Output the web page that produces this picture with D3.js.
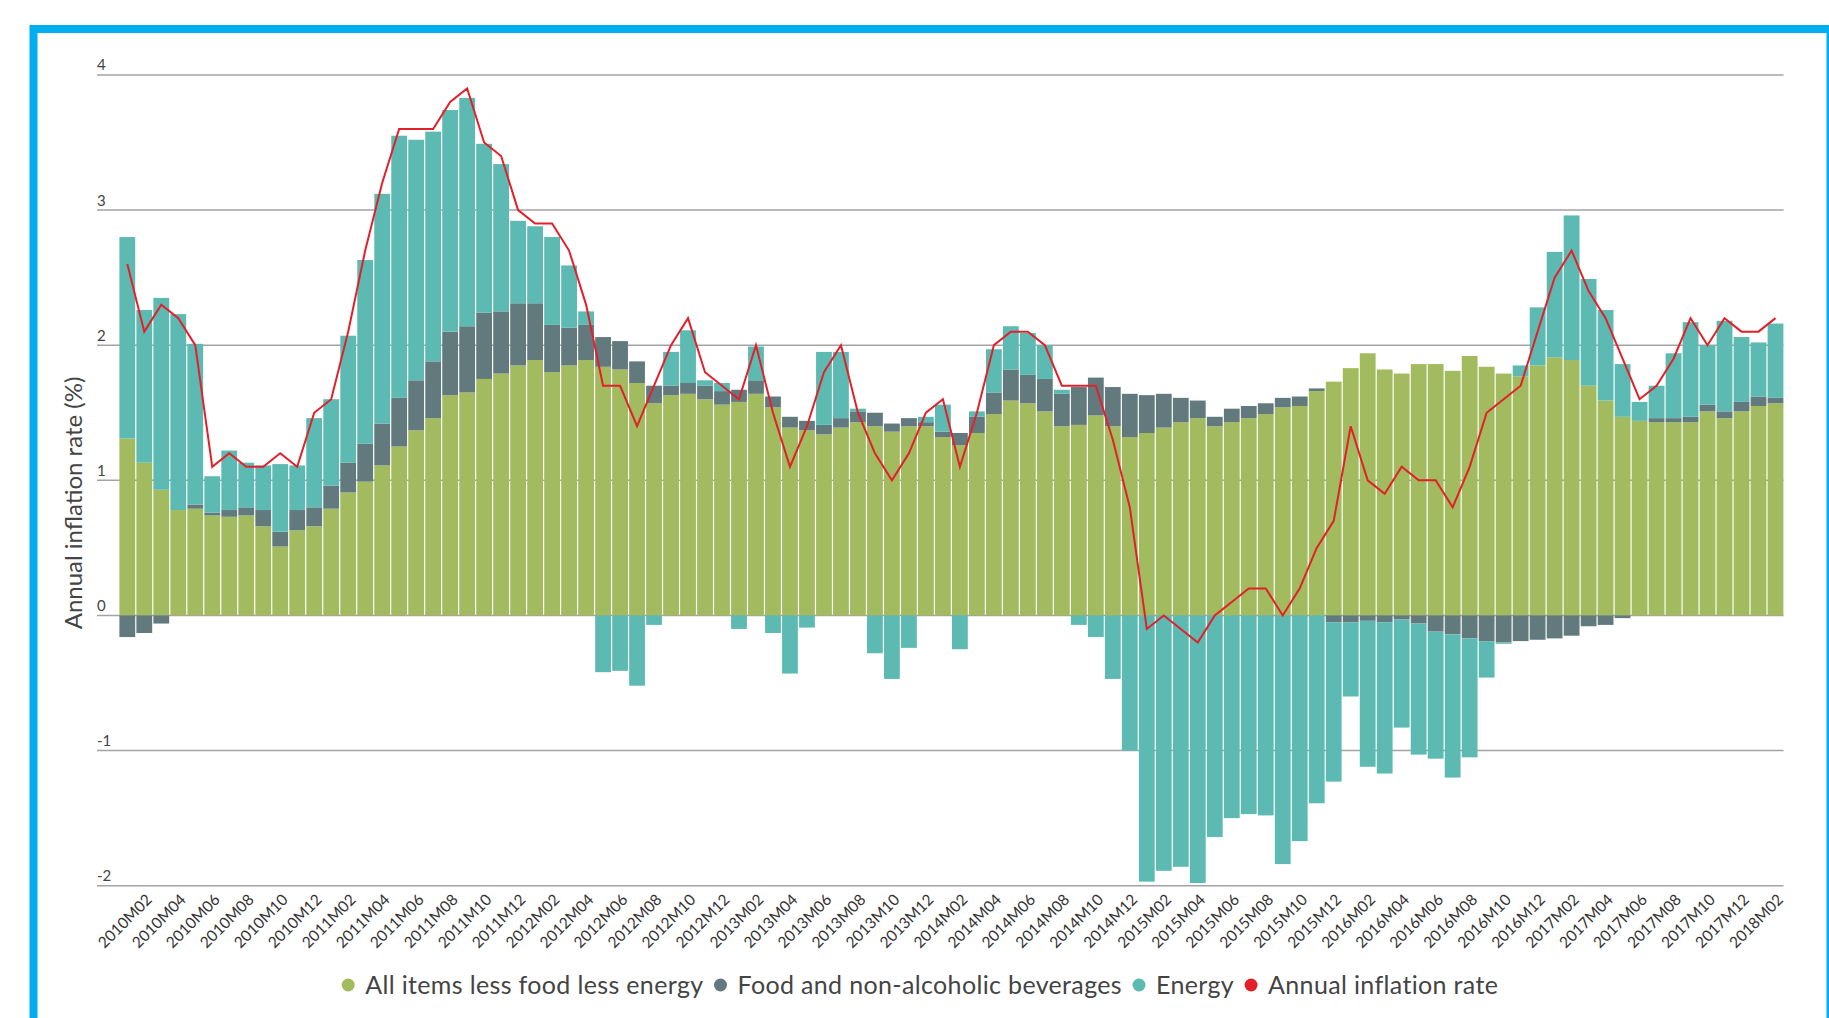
<!DOCTYPE html>
<html>
<head>
<meta charset="utf-8">
<script src="https://cdn.jsdelivr.net/npm/d3@7"></script>
<style>
  body { margin: 0; background: #fff; }
  text { font-family: Lato, "Open Sans", sans-serif; }
</style>
</head>
<body>
<svg id="chart" width="1829" height="1018"></svg>
<script>
var months = [
  "2010M01","2010M02","2010M03","2010M04","2010M05","2010M06","2010M07","2010M08","2010M09","2010M10","2010M11","2010M12",
  "2011M01","2011M02","2011M03","2011M04","2011M05","2011M06","2011M07","2011M08","2011M09","2011M10","2011M11","2011M12",
  "2012M01","2012M02","2012M03","2012M04","2012M05","2012M06","2012M07","2012M08","2012M09","2012M10","2012M11","2012M12",
  "2013M01","2013M02","2013M03","2013M04","2013M05","2013M06","2013M07","2013M08","2013M09","2013M10","2013M11","2013M12",
  "2014M01","2014M02","2014M03","2014M04","2014M05","2014M06","2014M07","2014M08","2014M09","2014M10","2014M11","2014M12",
  "2015M01","2015M02","2015M03","2015M04","2015M05","2015M06","2015M07","2015M08","2015M09","2015M10","2015M11","2015M12",
  "2016M01","2016M02","2016M03","2016M04","2016M05","2016M06","2016M07","2016M08","2016M09","2016M10","2016M11","2016M12",
  "2017M01","2017M02","2017M03","2017M04","2017M05","2017M06","2017M07","2017M08","2017M09","2017M10","2017M11","2017M12",
  "2018M01","2018M02"
];

// all items less food less energy
var core = [
  1.31,1.13,0.93,0.78,0.79,0.74,0.73,0.74,0.66,0.51,0.63,0.66,
  0.79,0.91,0.99,1.11,1.25,1.37,1.46,1.63,1.65,1.75,1.79,1.85,
  1.89,1.80,1.85,1.89,1.84,1.82,1.72,1.57,1.63,1.64,1.60,1.56,
  1.58,1.64,1.54,1.39,1.37,1.34,1.39,1.43,1.40,1.36,1.40,1.40,
  1.32,1.26,1.35,1.49,1.59,1.57,1.51,1.40,1.41,1.48,1.40,1.32,
  1.35,1.39,1.43,1.46,1.40,1.43,1.46,1.49,1.54,1.55,1.66,1.73,
  1.83,1.94,1.82,1.79,1.86,1.86,1.81,1.92,1.84,1.79,1.77,1.85,
  1.91,1.89,1.70,1.59,1.47,1.44,1.43,1.43,1.43,1.51,1.46,1.51,
  1.55,1.57
];

// food and non-alcoholic beverages
var food = [
  -0.16,-0.13,-0.06,0.00,0.03,0.02,0.05,0.06,0.12,0.11,0.15,0.14,
  0.17,0.22,0.28,0.31,0.36,0.37,0.42,0.47,0.49,0.49,0.46,0.46,
  0.42,0.35,0.28,0.26,0.22,0.21,0.16,0.13,0.07,0.08,0.10,0.10,
  0.09,0.10,0.08,0.08,0.07,0.07,0.07,0.08,0.10,0.06,0.06,0.03,
  0.04,0.09,0.12,0.16,0.23,0.21,0.24,0.24,0.28,0.28,0.29,0.32,
  0.28,0.25,0.18,0.13,0.07,0.10,0.09,0.08,0.07,0.07,0.02,-0.05,
  -0.05,-0.04,-0.05,-0.03,-0.06,-0.12,-0.14,-0.17,-0.19,-0.20,-0.19,-0.18,
  -0.17,-0.15,-0.08,-0.07,-0.02,0.00,0.03,0.03,0.04,0.05,0.05,0.07,
  0.07,0.04
];

var energy = [
  1.49,1.13,1.42,1.45,1.19,0.27,0.44,0.33,0.33,0.50,0.33,0.66,
  0.64,0.94,1.36,1.70,1.94,1.78,1.70,1.64,1.69,1.25,1.09,0.61,
  0.57,0.65,0.46,0.10,-0.42,-0.41,-0.52,-0.07,0.25,0.39,0.04,0.06,
  -0.10,0.25,-0.13,-0.43,-0.09,0.54,0.49,0.02,-0.28,-0.47,-0.24,0.04,
  0.20,-0.25,0.04,0.32,0.32,0.31,0.25,0.03,-0.07,-0.16,-0.47,-1.00,
  -1.97,-1.89,-1.86,-1.98,-1.64,-1.50,-1.47,-1.48,-1.84,-1.67,-1.39,-1.18,
  -0.55,-1.08,-1.12,-0.80,-0.97,-0.94,-1.06,-0.88,-0.27,-0.01,0.08,0.43,
  0.78,1.07,0.79,0.67,0.39,0.14,0.24,0.48,0.70,0.44,0.67,0.48,
  0.40,0.55
];

var inflation = [
  2.6,2.1,2.3,2.2,2.0,1.1,1.2,1.1,1.1,1.2,1.1,1.5,
  1.6,2.1,2.7,3.2,3.6,3.6,3.6,3.8,3.9,3.5,3.4,3.0,
  2.9,2.9,2.7,2.3,1.7,1.7,1.4,1.7,2.0,2.2,1.8,1.7,
  1.6,2.0,1.5,1.1,1.4,1.8,2.0,1.5,1.2,1.0,1.2,1.5,
  1.6,1.1,1.5,2.0,2.1,2.1,2.0,1.7,1.7,1.7,1.3,0.8,
  -0.1,0.0,-0.1,-0.2,0.0,0.1,0.2,0.2,0.0,0.2,0.5,0.7,
  1.4,1.0,0.9,1.1,1.0,1.0,0.8,1.1,1.5,1.6,1.7,2.1,
  2.5,2.7,2.4,2.2,1.9,1.6,1.7,1.9,2.2,2.0,2.2,2.1,
  2.1,2.2
];

var yTicks = [-2, -1, 0, 1, 2, 3, 4];
var seriesKeys = ["core", "food", "energy"];
var legendNames = ["All items less food less energy", "Food and non-alcoholic beverages", "Energy", "Annual inflation rate"];
var legendColors = ["#a1bb5e", "#627a7e", "#5dbab2", "#e3202a"];

var svg = d3.select("#chart");

// blue frame
svg.append("rect")
    .attr("x", 33.5).attr("y", 29)
    .attr("width", 1797).attr("height", 1100)
    .attr("fill", "none")
    .attr("stroke", "#00aeef")
    .attr("stroke-width", 8);

var x = d3.scaleBand()
    .domain(months)
    .range([119.4, 1784.6]);

var y = d3.scaleLinear()
    .domain([-2, 4])
    .range([885.7, 74.9]);

var plotLeft = 97, plotRight = 1783.5;

// grid
var grid = svg.append("g").classed("grid", true);
grid.selectAll("line")
    .data(yTicks)
    .enter()
    .append("line")
        .attr("x1", plotLeft).attr("x2", plotRight)
        .attr("y1", d => y(d)).attr("y2", d => y(d))
        .attr("stroke", "#a3a3a3")
        .attr("stroke-width", 1.5);

grid.selectAll("text")
    .data(yTicks)
    .enter()
    .append("text")
        .attr("x", plotLeft)
        .attr("y", d => y(d) - 4.5)
        .style("font-size", "15px")
        .style("fill", "#444")
        .text(d => d);

// stacked bars
var table = months.map((m, i) => ({ month: m, core: core[i], food: food[i], energy: energy[i] }));
var stacked = d3.stack()
    .keys(seriesKeys)
    .offset(d3.stackOffsetDiverging)(table);

var color = d3.scaleOrdinal().domain(seriesKeys).range(legendColors.slice(0, 3));

svg.append("g").classed("bars", true)
    .selectAll("g")
    .data(stacked)
    .enter()
    .append("g")
        .attr("fill", d => color(d.key))
    .selectAll("rect")
    .data(d => d)
    .enter()
    .append("rect")
        .attr("x", d => x(d.data.month))
        .attr("width", x.bandwidth() - 1.2)
        .attr("y", d => y(Math.max(d[0], d[1])))
        .attr("height", d => Math.abs(y(d[0]) - y(d[1])));

// inflation line
var line = d3.line()
    .x((d, i) => x(months[i]) + (x.bandwidth() - 1.2) / 2)
    .y(d => y(d));

svg.append("path")
    .datum(inflation)
    .attr("d", line)
    .attr("fill", "none")
    .attr("stroke", "#e3202a")
    .attr("stroke-width", 2)
    .attr("stroke-linejoin", "miter");

// x axis labels
var labelMonths = months.filter(m => +m.slice(5) % 2 === 0);
var xAxis = d3.axisBottom(x).tickValues(labelMonths).tickSize(0);
var axisG = svg.append("g")
    .attr("transform", `translate(0, ${y(-2)})`)
    .call(xAxis);
axisG.select(".domain").remove();
axisG.selectAll("text")
    .attr("x", 0).attr("y", 0).attr("dy", 0)
    .attr("transform", "translate(8, 15) rotate(-45)")
    .style("text-anchor", "end")
    .style("font-size", "15.5px")
    .style("font-family", "Lato, sans-serif")
    .style("fill", "#333");

// y axis title
svg.append("text")
    .attr("transform", "translate(82, 503) rotate(-90)")
    .style("text-anchor", "middle")
    .style("font-size", "24px")
    .style("fill", "#444")
    .text("Annual inflation rate (%)");

// legend
var legend = svg.append("g").classed("legend", true);
var items = legend.selectAll("g")
    .data(legendNames)
    .enter()
    .append("g");
items.append("circle")
    .attr("r", 6.5)
    .attr("cy", 0)
    .attr("fill", (d, i) => legendColors[i]);
items.append("text")
    .attr("x", 17)
    .attr("y", 8.5)
    .style("font-size", "25px")
    .style("letter-spacing", "0.35px")
    .style("fill", "#444")
    .text(d => d);

var cursor = 0;
items.each(function () {
    var g = d3.select(this);
    var w = g.select("text").node().getComputedTextLength();
    g.attr("transform", `translate(${cursor}, 0)`);
    cursor += 17 + w + 17;
});
var legendWidth = cursor - 17 + 6.5;
legend.attr("transform", `translate(${920 - legendWidth / 2 + 6.5}, 985)`);
</script>
</body>
</html>
